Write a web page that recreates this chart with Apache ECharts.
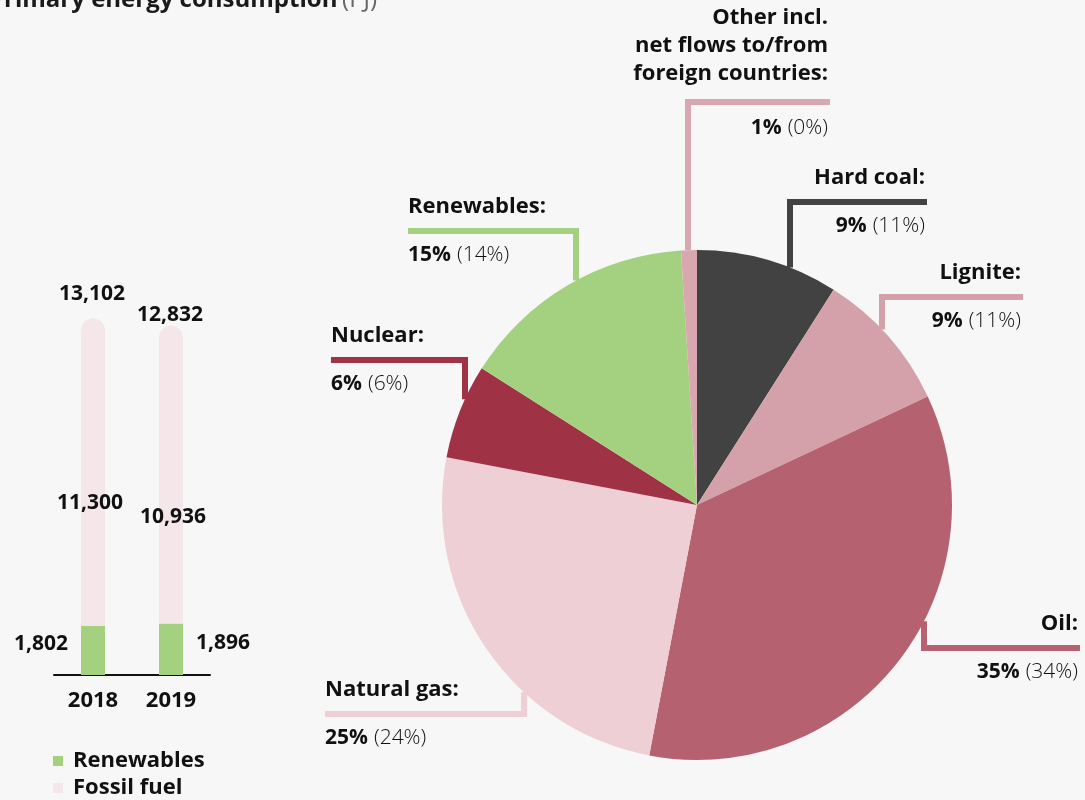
<!DOCTYPE html>
<html>
<head>
<meta charset="utf-8">
<script src="https://cdn.jsdelivr.net/npm/echarts@6/dist/echarts.min.js"></script>
<style>
  html, body { margin: 0; padding: 0; background: #f7f7f7; }
  #chart { width: 1085px; height: 800px; }
</style>
</head>
<body>
<div id="chart"></div>
<script>
// bar chart data (PJ)
var years = ['2018', '2019'];
var renewables = [1802, 1896];
var fossil = [11300, 10936];

// pie data: share of primary energy consumption 2019, previous year in brackets
var sources = ['Hard coal', 'Lignite', 'Oil', 'Natural gas', 'Nuclear', 'Renewables',
    'Other incl.\nnet flows to/from\nforeign countries'];
var shares = [9, 9, 35, 25, 6, 15, 1];
var sharesPrev = [11, 11, 34, 24, 6, 14, 0];

var pieColors = ['#424242', '#d4a1aa', '#b5616f', '#eecfd5', '#a03246', '#a3d17f', '#d9a7b0'];

// where each leader line bends (x of the vertical part, y of the horizontal part, end x)
var anchors = [
    { x: 790, y: 202, end: 927 },
    { x: 882, y: 297, end: 1023 },
    { x: 924, y: 648, end: 1080 },
    { x: 524, y: 714, end: 325 },
    { x: 465, y: 360, end: 331 },
    { x: 576, y: 231, end: 408 },
    { x: 688, y: 102, end: 830 }
];

var pieCenter = [697, 505];
var pieR = 255;
var lineH = 24;   // single-line labels
var lineHM = 28;  // multi-line label (Other)

var totals = renewables.map(function (v, i) { return v + fossil[i]; });
function fmt(v) { return v.toLocaleString('en-US'); }

var chart = echarts.init(document.getElementById('chart'));

var font = '"Open Sans", "Noto Sans", sans-serif';
var numStyle = { fontFamily: font, fontSize: 21, fontWeight: 'bold', color: '#111' };

var option = {
    backgroundColor: '#f7f7f7',
    textStyle: { fontFamily: font },
    animation: false,
    title: {
        left: -16,
        top: -20,
        text: '{b|Primary energy consumption} {r|(PJ)}',
        textStyle: {
            rich: {
                b: { fontFamily: font, fontSize: 24, fontWeight: 'bold', color: '#1a1a1a', lineHeight: 30 },
                r: { fontFamily: font, fontSize: 24, fontWeight: 'normal', color: '#666', lineHeight: 30 }
            }
        }
    },
    legend: {
        data: ['Renewables', 'Fossil fuel'],
        orient: 'vertical',
        left: 53,
        top: 750,
        padding: 0,
        icon: 'rect',
        itemWidth: 10,
        itemHeight: 10,
        itemGap: 5,
        textStyle: { fontFamily: font, fontSize: 22, fontWeight: 'bold', color: '#111', padding: [0, 0, 0, 5] }
    },
    grid: { left: 54, right: 875, top: 294, bottom: 125 },
    xAxis: {
        type: 'category',
        data: years,
        axisLine: { lineStyle: { color: '#111', width: 2 } },
        axisTick: { show: false },
        axisLabel: { margin: 15, fontFamily: font, fontSize: 22, fontWeight: 'bold', color: '#111' }
    },
    yAxis: {
        type: 'value',
        min: 0,
        max: 14000,
        show: false,
        splitLine: { show: false }
    },
    series: [
        {
            name: 'Renewables',
            type: 'bar',
            stack: 'total',
            barWidth: 24,
            itemStyle: { color: '#a3d17f' },
            label: Object.assign({
                show: true,
                distance: 13,
                offset: [0, -6],
                formatter: function (p) { return fmt(p.value); }
            }, numStyle),
            data: renewables.map(function (v, i) {
                return { value: v, label: { position: i === 0 ? 'left' : 'right' } };
            })
        },
        {
            name: 'Fossil fuel',
            type: 'bar',
            stack: 'total',
            barWidth: 24,
            itemStyle: { color: '#f5e6ea', borderRadius: [12, 12, 0, 0] },
            label: Object.assign({
                show: true,
                position: 'inside',
                formatter: function (p) { return fmt(p.value); }
            }, numStyle),
            data: fossil.map(function (v, i) {
                return { value: v, label: { offset: i === 0 ? [-3, 31] : [2, 42] } };
            })
        },
        {
            name: 'Total',
            type: 'scatter',
            symbolSize: 0,
            silent: true,
            itemStyle: { opacity: 1, color: 'transparent' },
            label: Object.assign({
                show: true,
                position: 'top',
                distance: 14,
                formatter: function (p) { return fmt(p.value); }
            }, numStyle),
            data: totals.map(function (v, i) {
                return { value: v, label: { offset: i === 0 ? [-1, 0] : [-1, 14] } };
            })
        },
        {
            name: 'Share',
            type: 'pie',
            center: pieCenter,
            radius: pieR,
            startAngle: 90,
            clockwise: true,
            avoidLabelOverlap: false,
            emphasis: { scale: false },
            label: {
                show: true,
                position: 'outside',
                formatter: function (p) {
                    var parts = p.name.split('\n');
                    var multi = parts.length > 1;
                    var lines = parts.map(function (s, k) {
                        return (multi ? '{m|' : '{n|') + s + (k === parts.length - 1 ? ':' : '') + '}';
                    });
                    return lines.join('\n') + '\n' + (multi ? '{h| }' : '{g| }') +
                        '\n{b|' + p.value + '%}{s| }{p|(' + sharesPrev[p.dataIndex] + '%)}';
                },
                rich: {
                    n: { fontFamily: font, fontSize: 22, fontWeight: 'bold', color: '#111', lineHeight: lineH },
                    m: { fontFamily: font, fontSize: 22, fontWeight: 'bold', color: '#111', lineHeight: lineHM },
                    g: { fontSize: 10, lineHeight: lineH },
                    h: { fontSize: 10, lineHeight: lineHM },
                    b: { fontFamily: font, fontSize: 21, fontWeight: 'bold', color: '#111', lineHeight: lineH },
                    s: { fontSize: 10, width: 6, lineHeight: lineH },
                    p: { fontFamily: font, fontSize: 21, fontWeight: 300, color: '#111', lineHeight: lineH }
                }
            },
            labelLine: {
                show: true,
                lineStyle: { width: 6, join: 'miter', cap: 'butt' }
            },
            labelLayout: function (params) {
                var a = anchors[params.dataIndex];
                var nameLines = sources[params.dataIndex].split('\n').length;
                var lh = nameLines > 1 ? lineHM : lineH;
                var dx = a.x - pieCenter[0];
                var h = Math.sqrt(pieR * pieR - dx * dx);
                var startY = a.y < pieCenter[1] ? pieCenter[1] - h : pieCenter[1] + h;
                var right = a.end > a.x;
                return {
                    x: right ? a.end - 2 : a.end,
                    y: a.y - (nameLines + 0.5) * lh,
                    align: right ? 'right' : 'left',
                    verticalAlign: 'top',
                    labelLinePoints: [[a.x, startY], [a.x, a.y], [a.end, a.y]]
                };
            },
            data: sources.map(function (s, i) {
                return { name: s, value: shares[i], itemStyle: { color: pieColors[i] } };
            })
        }
    ]
};

chart.setOption(option);
</script>
</body>
</html>
